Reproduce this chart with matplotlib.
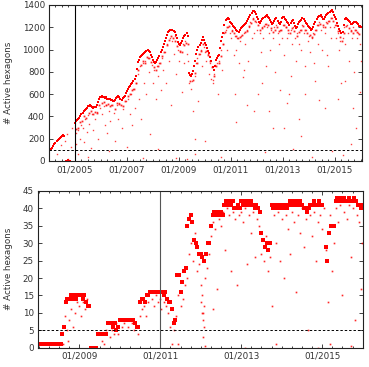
import numpy as np
import matplotlib
matplotlib.use("Agg")
import matplotlib.pyplot as plt
from matplotlib.ticker import MultipleLocator, FixedLocator

# ---------------- data (decimal years) ----------------
# Top panel: main band, one value per half month from 01/2004
top_band_v = [
    80, 95, 105, 120, 135, 150, 160, 175, 185, 195, 205, 215, 225, 232, 220, np.nan, 4, 0, 6, 1, np.nan, np.nan, np.nan, np.nan,
    340, 355, 365, 380, 390, 405, 420, 435, 445, 455, 465, 480, 490, 495, 500, 492, 485, 480, 488, 485, 500, 530, 560, 570,
    578, 585, 575, 570, 565, 572, 560, 555, 560, 548, 545, 538, 535, 550, 565, 578, 582, 570, 555, 550, 562, 575, 585, 610,
    630, 645, 660, 675, 690, 700, 715, 735, 760, 830, 890, 910, 930, 945, 955, 960, 965, 975, 985, 995, 990, 975, 955, 930,
    905, 885, 875, 890, 910, 925, 945, 975, 1000, 1025, 1050, 1075, 1100, 1135, 1160, 1170, 1180, 1178, 1172, 1165, 1160, 1130, 1100, 1070,
    1050, 1040, 1055, 1075, 1100, 1120, 1135, 1145, 1120, 790, 770, 760, 780, 810, 850, 900, 960, 1000, 1020, 1040, 1055, 1090, 1115, 1085,
    1060, 1040, 1010, 990, 965, 935, 900, 840, 820, 850, 910, 925, 940, 950, 1010, 1080, 1110, 1150, 1220, 1265, 1275, 1285, 1270, 1250,
    1240, 1230, 1215, 1205, 1190, 1175, 1165, 1160, 1175, 1190, 1200, 1210, 1220, 1230, 1240, 1255, 1275, 1295, 1310, 1325, 1345, 1350, 1335, 1315,
    1295, 1270, 1245, 1240, 1255, 1275, 1285, 1295, 1305, 1310, 1295, 1280, 1265, 1245, 1225, 1235, 1255, 1270, 1280, 1260, 1240, 1225, 1250, 1280,
    1295, 1290, 1275, 1265, 1250, 1235, 1222, 1240, 1255, 1265, 1240, 1215, 1195, 1205, 1225, 1245, 1255, 1265, 1280, 1270, 1255, 1240, 1225, 1210,
    1200, 1190, 1180, 1185, 1205, 1230, 1250, 1270, 1290, 1300, 1305, 1310, 1290, 1270, 1275, 1295, 1310, 1320, 1330, 1340, 1350, 1355, 1335, 1310,
    1295, 1270, 1240, 1210, 1185, 1165, 1150, 1155, 1220, 1275, 1280, 1270, 1265, 1260, 1245, 1230, 1225, 1240, 1250, 1245, 1235, 1225, 1215, 1210,
    1205,
]
top_band_t = 2004 + np.arange(len(top_band_v)) / 24.0

# Top panel: lower fringe of the band, one value per month from 01/2005
top_fringe_v = [
    290, 300, 350, 360, 400, 390, 430, 450, 420, 440, 430, 500,
    520, 530, 500, 510, 490, 500, 470, 520, 510, 500, 490, 540,
    580, 600, 640, 650, 700, 820, 860, 900, 880, 930, 920, 890,
    840, 820, 850, 880, 940, 980, 1040, 1090, 1120, 1100, 1080, 1030,
    990, 980, 1040, 1060, 1050, 720, 730, 790, 880, 960, 990, 1050,
    990, 950, 900, 840, 760, 850, 880, 940, 1050, 1160, 1200, 1210,
    1170, 1150, 1120, 1100, 1110, 1130, 1160, 1170, 1210, 1240, 1270, 1260,
    1220, 1180, 1190, 1210, 1230, 1220, 1190, 1160, 1180, 1200, 1170, 1180,
    1220, 1200, 1180, 1150, 1190, 1170, 1120, 1160, 1180, 1210, 1180, 1150,
    1130, 1110, 1140, 1180, 1220, 1230, 1220, 1200, 1240, 1260, 1280, 1260,
    1220, 1170, 1110, 1080, 1150, 1210, 1190, 1170, 1150, 1180, 1160, 1140,
]
top_fringe_t = 2005 + 1 / 48.0 + np.arange(len(top_fringe_v)) / 12.0

# Top panel: scattered points below the band
top_out_t = [
    2004.3, 2004.45, 2004.6, 2004.7, 2004.75, 2004.85, 2004.9,
    2005.02, 2005.05, 2005.1, 2005.12, 2005.18, 2005.22, 2005.3, 2005.35, 2005.4, 2005.45, 2005.5, 2005.55, 2005.6, 2005.65, 2005.7, 2005.78, 2005.85, 2005.9, 2005.95,
    2006.05, 2006.1, 2006.15, 2006.2, 2006.25, 2006.3, 2006.35, 2006.4, 2006.5, 2006.55, 2006.6, 2006.65, 2006.7, 2006.8, 2006.85, 2006.95,
    2007.05, 2007.1, 2007.15, 2007.2, 2007.25, 2007.3, 2007.35, 2007.42, 2007.45, 2007.5, 2007.55, 2007.6, 2007.65, 2007.7, 2007.75, 2007.8, 2007.85, 2007.9, 2007.95,
    2008.0, 2008.05, 2008.1, 2008.15, 2008.2, 2008.25, 2008.3, 2008.35, 2008.4, 2008.45, 2008.5, 2008.55, 2008.6, 2008.65, 2008.7, 2008.75, 2008.8, 2008.85, 2008.9, 2008.95,
    2009.0, 2009.05, 2009.1, 2009.15, 2009.2, 2009.25, 2009.3, 2009.35, 2009.4, 2009.45, 2009.5, 2009.55, 2009.6, 2009.65, 2009.7, 2009.75, 2009.8, 2009.85, 2009.9, 2009.95, 2009.6, 2009.62,
    2010.0, 2010.05, 2010.1, 2010.15, 2010.2, 2010.25, 2010.3, 2010.32, 2010.35, 2010.4, 2010.45, 2010.5, 2010.55, 2010.6, 2010.65, 2010.7, 2010.75, 2010.8, 2010.85, 2010.9, 2010.95,
    2011.0, 2011.05, 2011.1, 2011.15, 2011.2, 2011.25, 2011.3, 2011.35, 2011.4, 2011.45, 2011.5, 2011.55, 2011.6, 2011.65, 2011.7, 2011.75, 2011.8, 2011.85, 2011.9, 2011.95,
    2012.0, 2012.05, 2012.1, 2012.15, 2012.2, 2012.25, 2012.3, 2012.35, 2012.4, 2012.45, 2012.5, 2012.55, 2012.6, 2012.65, 2012.7, 2012.75, 2012.8, 2012.85, 2012.9, 2012.95,
    2013.0, 2013.05, 2013.1, 2013.15, 2013.2, 2013.25, 2013.3, 2013.35, 2013.4, 2013.45, 2013.5, 2013.55, 2013.6, 2013.65, 2013.7, 2013.75, 2013.8, 2013.85, 2013.9, 2013.95,
    2014.0, 2014.05, 2014.1, 2014.15, 2014.2, 2014.25, 2014.3, 2014.35, 2014.4, 2014.45, 2014.5, 2014.55, 2014.6, 2014.65, 2014.7, 2014.75, 2014.8, 2014.85, 2014.9, 2014.95,
    2015.0, 2015.05, 2015.1, 2015.15, 2015.2, 2015.25, 2015.3, 2015.35, 2015.4, 2015.45, 2015.5, 2015.55, 2015.6, 2015.65, 2015.7, 2015.75, 2015.8, 2015.85, 2015.9, 2015.95,
    2005.5, 2006.3, 2007.0, 2007.6, 2008.2, 2008.9, 2009.3, 2010.0, 2010.6, 2011.2, 2011.9, 2012.3, 2012.6, 2013.05, 2013.4, 2013.7, 2014.1, 2014.4, 2014.9, 2015.3, 2015.6, 2015.8, 2015.95,
    2011.15, 2011.5, 2011.6, 2012.2, 2012.45, 2012.9, 2013.15, 2013.3, 2013.6, 2013.85, 2014.25, 2014.6, 2014.75, 2015.1, 2015.4, 2015.7, 2016.0,
]
top_out_v = [
    60, 140, 180, 240, 20, 130, 300,
    150, 250, 280, 60, 200, 320, 300, 170, 380, 260, 410, 330, 120, 420, 280, 380, 440, 200, 480,
    420, 490, 320, 500, 250, 450, 360, 500, 430, 180, 500, 380, 520, 300, 470, 540,
    560, 420, 600, 320, 650, 480, 700, 780, 560, 850, 380, 880, 700, 900, 600, 920, 800, 240, 860,
    700, 820, 560, 850, 760, 880, 640, 920, 820, 980, 700, 1050, 900, 1100, 500, 1080, 960, 1120, 780, 1000,
    900, 980, 620, 1050, 880, 1080, 960, 900, 700, 650, 720, 450, 760, 880, 920, 540, 960, 1000, 850, 1020, 200, 60,
    980, 900, 960, 780, 880, 740, 730, 700, 780, 860, 880, 600, 900, 1000, 820, 1050, 1150, 1180, 1000, 1200, 1150,
    1100, 1180, 950, 1120, 1000, 1100, 880, 1080, 1120, 750, 1150, 1050, 1180, 900, 1200, 1250, 1100, 1280, 1150, 1250,
    1180, 600, 1150, 980, 1200, 1100, 1230, 850, 1200, 1150, 1000, 1180, 1100, 1200, 800, 1220, 1150, 1050, 1180, 1100,
    1220, 950, 1200, 1100, 1150, 600, 1180, 1050, 1200, 1100, 900, 1150, 1050, 1180, 1000, 1220, 1150, 850, 1180, 1080,
    1120, 980, 1100, 1150, 880, 1180, 1220, 1050, 1250, 1180, 1000, 1200, 1150, 1250, 950, 1260, 1200, 1100, 1280, 1200,
    1220, 1100, 1150, 1000, 1080, 700, 1100, 1200, 1050, 1220, 1150, 900, 1180, 1100, 1200, 800, 1180, 1100, 1150, 1050,
    40, 90, 130, 30, 110, 30, 20, 180, 40, 350, 450, 80, 300, 300, 110, 220, 40, 550, 90, 50, 150, 300, 620,
    600, 820, 500, 700, 450, 640, 520, 760, 380, 600, 720, 480, 850, 560, 720, 480, 900,
]

# Bottom panel: main band, one value per half month from 01/2008
bot_band_v = [
    1, 1, 1, 1, 1, 1, 1, 1, 1, 1, 1, 1, 1, 1, 4, 6, 13, 14, 14, 15, 14, 15, 14, 15,
    15, 15, 14, 15, 13, 12, 12, 0, 0, 0, 0, 4, 4, 4, 4, 4, 4, 7, 7, 7, 6, 7, 5, 6,
    8, 8, 8, 8, 8, 8, 8, 8, 8, 7, 6, 6, 13, 14, 14, 13, 15, 15, 16, 16, 16, 16, 16, 16,
    16, 16, 15, 16, 14, 13, 13, 11, 7, 8, 21, 21, 16, 19, 22, 23, 35, 37, 38, 36, 31, 30, 29, 27,
    27, 26, 25, 27, 30, 30, 35, 38, 39, 38, 39, 38, 39, 38, 41, 42, 41, 42, 41, 42, 40, 40, 41, 40,
    42, 41, 42, 41, 42, 41, 42, 41, 40, 41, 40, 39, 33, 31, 29, 30, 28, 30, 41, 40, 41, 40, 41, 40,
    41, 40, 41, 40, 41, 42, 41, 42, 41, 42, 41, 42, 41, 40, 40, 39, 40, 41, 41, 42, 41, 41, 42, 41,
    41, np.nan, 29, 25, 33, 35, 35, 35, 42, 43, 42, 43, 42, 43, 42, 42, 43, 42, 42, 43, 42, 41, 41, 40,
    41,
]
bot_band_t = 2008 + np.arange(len(bot_band_v)) / 24.0

bot_out_t = [
    2008.6, 2008.65, 2008.7, 2008.75, 2008.8, 2008.85, 2008.9, 2008.95, 2008.72,
    2009.0, 2009.05, 2009.1, 2009.15, 2009.2, 2009.55, 2009.6, 2009.65, 2009.75, 2009.8, 2009.85, 2009.9, 2009.95,
    2010.05, 2010.1, 2010.2, 2010.3, 2010.35, 2010.45, 2010.5, 2010.55, 2010.6, 2010.65, 2010.7, 2010.8, 2010.85, 2010.9, 2010.95,
    2011.0, 2011.03, 2011.1, 2011.15, 2011.2, 2011.25, 2011.3, 2011.35, 2011.4, 2011.45, 2011.5, 2011.55, 2011.6, 2011.65, 2011.7, 2011.75, 2011.8, 2011.85, 2011.9, 2011.95,
    2012.0, 2012.03, 2012.05, 2012.08, 2012.1, 2012.15, 2012.2, 2012.25, 2012.3, 2012.35, 2012.4, 2012.45, 2012.5, 2012.55, 2012.6, 2012.65, 2012.7, 2012.75, 2012.8, 2012.85, 2012.9, 2012.95,
    2013.0, 2013.05, 2013.1, 2013.15, 2013.2, 2013.25, 2013.3, 2013.35, 2013.4, 2013.45, 2013.5, 2013.55, 2013.6, 2013.65, 2013.7, 2013.75, 2013.8, 2013.85, 2013.9, 2013.95,
    2014.0, 2014.05, 2014.1, 2014.15, 2014.2, 2014.25, 2014.3, 2014.35, 2014.4, 2014.45, 2014.5, 2014.55, 2014.6, 2014.65, 2014.7, 2014.75, 2014.8, 2014.85, 2014.9, 2014.95,
    2015.0, 2015.05, 2015.1, 2015.15, 2015.2, 2015.25, 2015.3, 2015.35, 2015.4, 2015.45, 2015.5, 2015.55, 2015.6, 2015.65, 2015.7, 2015.75, 2015.8, 2015.85, 2015.9, 2015.95, 2015.98,
    2009.3, 2009.35, 2011.45, 2012.1, 2013.1, 2013.85, 2014.9, 2015.2, 2015.7,
    2012.0, 2012.02, 2012.05, 2012.07, 2012.06, 2012.3,
]
bot_out_v = [
    1, 9, 5, 8, 11, 6, 10, 13, 2,
    12, 9, 13, 11, 14, 2, 1, 5, 3, 5, 4, 7, 4,
    6, 7, 6, 7, 5, 4, 9, 11, 12, 9, 13, 14, 12, 15, 13,
    14, 11, 13, 12, 10, 6, 1, 5, 9, 15, 12, 14, 18, 20, 27, 30, 25, 33, 22, 24,
    18, 10, 8, 12, 20, 23, 27, 32, 36, 34, 17, 37, 35, 39, 28, 40, 38, 22, 39, 37, 18, 38,
    39, 36, 40, 24, 38, 33, 39, 26, 37, 35, 27, 25, 32, 22, 26, 12, 38, 30, 39, 25,
    37, 20, 38, 34, 27, 39, 36, 16, 38, 33, 40, 29, 37, 5, 38, 32, 39, 25, 36, 38,
    34, 40, 28, 13, 38, 22, 30, 40, 36, 41, 15, 39, 37, 41, 26, 40, 8, 38, 36, 17, 30,
    0, 0, 1, 0.5, 0, 1, 0, 1, 0.5,
    13, 15, 10, 6, 3, 11,
]

top_ref_year = 2005
top_threshold = 100
bot_ref_year = 2011
bot_threshold = 5

# ---------------- figure ----------------
W, H = 369, 367
fig = plt.figure(figsize=(W / 100, H / 100), dpi=100)
txt_color = "#333333"
fs = 6.3
red = "#ff0000"


def px_axes(l, t, r, b):
    return fig.add_axes([l / W, 1 - b / H, (r - l) / W, (b - t) / H])


def style(ax, ymax, ystep, xmin, xmax, years):
    ax.set_xlim(xmin, xmax)
    ax.set_ylim(0, ymax)
    ax.yaxis.set_major_locator(MultipleLocator(ystep))
    ax.xaxis.set_major_locator(FixedLocator(years))
    ax.xaxis.set_minor_locator(MultipleLocator(0.25))
    ax.set_xticklabels(["01/%d" % y for y in years])
    ax.tick_params(axis="both", which="both", direction="in", top=True, right=True,
                   labelsize=fs, labelcolor=txt_color, color="#222222", width=0.6)
    ax.tick_params(which="major", length=3.0, pad=3)
    ax.tick_params(which="minor", length=1.6)
    for s in ax.spines.values():
        s.set_linewidth(0.8)
        s.set_color("#222222")


# top panel
ax1 = px_axes(49, 5, 362, 161)
ax1.plot(top_out_t, top_out_v, ls="none", marker="s", ms=1.0, mew=0, color=red, alpha=0.75)
ax1.plot(top_fringe_t, top_fringe_v, ls="none", marker="s", ms=1.3, mew=0, color=red, alpha=0.85)
ax1.plot(top_band_t, top_band_v, ls="none", marker="s", ms=2.0, mew=0, color=red)
ax1.axvline(top_ref_year, color="black", lw=0.8)
ax1.axhline(top_threshold, color="black", lw=0.7, ls=(0, (2.5, 2)))
style(ax1, 1400, 200, 2004.0, 2016.04, [2005, 2007, 2009, 2011, 2013, 2015])

# bottom panel
ax2 = px_axes(38, 191, 362.7, 347.7)
ax2.plot(bot_out_t, bot_out_v, ls="none", marker="s", ms=1.2, mew=0, color=red, alpha=0.85)
ax2.plot(bot_band_t, bot_band_v, ls="none", marker="s", ms=2.2, mew=0, color=red)
ax2.axvline(bot_ref_year, color="#555555", lw=0.8)
ax2.axhline(bot_threshold, color="black", lw=0.7, ls=(0, (2.5, 2)))
style(ax2, 45, 5, 2007.98, 2016.0, [2009, 2011, 2013, 2015])

fig.text(9 / W, 1 - 83 / H, "# Active hexagons", rotation=90, ha="center", va="center",
         fontsize=fs, color=txt_color)
fig.text(9 / W, 1 - 269 / H, "# Active hexagons", rotation=90, ha="center", va="center",
         fontsize=fs, color=txt_color)

fig.savefig("out.png", dpi=100)
